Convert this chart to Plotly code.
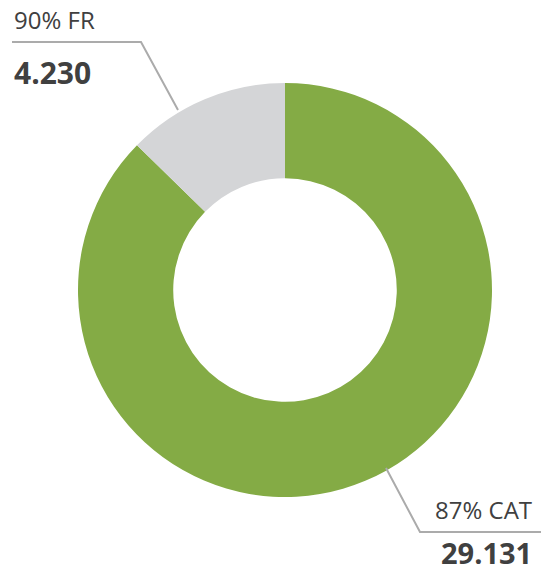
import plotly.graph_objects as go

W, H = 541, 574
labels = ["CAT", "FR"]
values = [29131, 4230]
value_text = ["29.131", "4.230"]
pct_text = ["87% CAT", "90% FR"]
colors = ["#84ab45", "#d4d5d7"]

def px(x):
    return x / W

def py(y):
    return 1 - y / H

fig = go.Figure(go.Pie(
    labels=labels, values=values, hole=0.54, sort=False, direction="clockwise",
    rotation=0, marker=dict(colors=colors, line=dict(width=0)),
    textinfo="none", hoverinfo="label+value", showlegend=False,
    domain=dict(x=[px(78), px(492)], y=[py(497), py(83)]),
))

line_col = "#ababab"
shapes = [
    dict(type="path", path=f"M {px(178)} {py(110)} L {px(141)} {py(42)} L {px(12)} {py(42)}",
         xref="paper", yref="paper", line=dict(color=line_col, width=2)),
    dict(type="path", path=f"M {px(386)} {py(468)} L {px(420)} {py(532)} L {px(541)} {py(532)}",
         xref="paper", yref="paper", line=dict(color=line_col, width=2)),
]

font_main = "Open Sans, DejaVu Sans, sans-serif"
txt_col = "#404040"
ann = [
    dict(x=px(12), y=py(38), text=pct_text[1], xanchor="left", yanchor="bottom",
         font=dict(size=24, color=txt_col, family=font_main)),
    dict(x=px(12), y=py(50), text=f"<b>{value_text[1]}</b>", xanchor="left", yanchor="top",
         font=dict(size=30, color=txt_col, family=font_main)),
    dict(x=px(534), y=py(528), text=pct_text[0], xanchor="right", yanchor="bottom",
         font=dict(size=24, color=txt_col, family=font_main)),
    dict(x=px(534), y=py(574), text=f"<b>{value_text[0]}</b>", xanchor="right", yanchor="bottom",
         font=dict(size=29, color=txt_col, family=font_main)),
]
for a in ann:
    a.update(xref="paper", yref="paper", showarrow=False)

fig.update_layout(width=W, height=H, margin=dict(l=0, r=0, t=0, b=0),
                  paper_bgcolor="white", plot_bgcolor="white",
                  shapes=shapes, annotations=ann)
fig.write_html("out.html", config={"displayModeBar": False},
               post_script="document.body.style.margin='0';document.body.style.overflow='hidden';")
